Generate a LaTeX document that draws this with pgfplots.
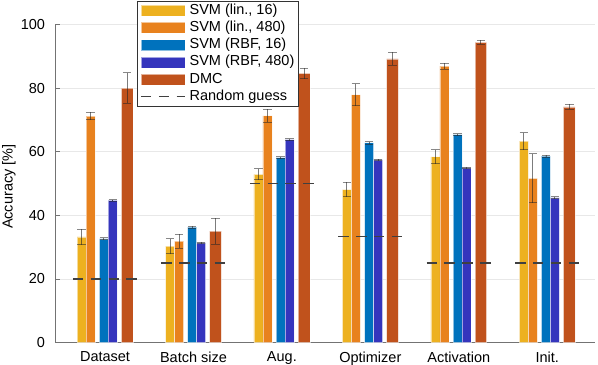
\documentclass[border=0pt]{standalone}
\usepackage{pgfplots}
\pgfplotsset{compat=1.18}
\usepackage{pgfplotstable}
\usepackage{fontspec}
\setmainfont{Liberation Sans}

\definecolor{cA}{HTML}{EDB120}
\definecolor{cB}{HTML}{E8821E}
\definecolor{cC}{HTML}{0072BD}
\definecolor{cD}{HTML}{3535BD}
\definecolor{cE}{HTML}{C0521C}

% accuracy [%] and error per group
\pgfplotstableread{
g  y1   e1  y2   e2  y3   e3  y4   e4  y5   e5
1  33.2 2.4 71.2 1.2 32.6 0.3 44.7 0.2 80.0 4.8
2  30.3 2.4 31.9 2.2 36.3 0.3 31.3 0.3 35.0 4.1
3  52.9 1.7 71.3 2.1 58.1 0.3 63.8 0.3 84.6 1.7
4  48.1 2.3 77.9 3.5 62.8 0.4 57.4 0.3 89.2 2.0
5  58.4 2.2 86.9 0.9 65.4 0.3 54.9 0.2 94.4 0.6
6  63.3 2.7 51.6 7.7 58.6 0.3 45.5 0.3 74.1 0.8
}\acc

\pgfplotsset{
  accbar/.style={ybar, bar shift=0pt, bar width=0.102, fill=#1,
    draw=white, draw opacity=0.55, line width=0.6bp,
    error bars/y dir=both, error bars/y explicit,
    error bars/error bar style={black!85, line width=0.9bp},
    error bars/error mark options={black!85, line width=0.9bp, mark size=4.2bp, rotate=90}},
  barleg/.style={legend image code/.code={%
    \path[fill=#1] (0bp,-5.5bp) rectangle (44bp,5.5bp); \path (47bp,0bp);}},
  rgleg/.style={legend image code/.code={%
    \draw[black!75, line width=1.3bp, dash pattern=on 10.5bp off 7.3bp] (0bp,0bp) -- (44bp,0bp); \path (47bp,0bp);}},
}

\begin{document}
\begin{tikzpicture}
\fontsize{14.5bp}{17bp}\selectfont
\begin{axis}[
  scale only axis,
  width=539.6bp, height=318bp,
  xmin=0.442, xmax=6.544, ymin=0, ymax=100,
  axis x line*=bottom, axis y line*=left,
  axis line style={black!55, line width=0.6bp},
  xtick={1,...,6},
  xticklabels={Dataset,Batch size,Aug.,Optimizer,Activation,Init.},
  x tick style={draw=none},
  ytick={0,20,...,100},
  tick align=inside, major tick length=4bp,
  y tick style={black!55, line width=0.6bp},
  ymajorgrids, grid style={black!9, line width=0.6bp},
  tick label style={font=\fontsize{14.5bp}{17bp}\selectfont},
  /pgf/number format/assume math mode=true,
  yticklabel style={anchor=east, inner sep=0pt, xshift=-10.5bp},
  xticklabel style={anchor=north, inner sep=0pt, yshift=-9bp},
  ylabel={Accuracy [\%]},
  ylabel style={at={(axis description cs:-0.0866,0.49)}, rotate=0, anchor=center, inner sep=0pt},
  label style={font=\fontsize{14.5bp}{17bp}\selectfont},
  legend cell align=left,
  legend style={at={(axis description cs:0.1507,1.074)}, anchor=north west,
    draw=black!80, line width=0.6bp, fill=white,
    font=\fontsize{14.5bp}{17bp}\selectfont,
    row sep=2.2bp, inner xsep=3bp, inner ysep=2bp,
    nodes={inner sep=1bp, text height=10bp, text depth=3bp}},
]
\coordinate (bl) at (rel axis cs:0,0);
\coordinate (tr) at (rel axis cs:1,1);

\addplot[accbar=cA, barleg=cA] table[x expr=\thisrow{g}-0.265, y=y1, y error=e1] {\acc};
\addlegendentry{SVM (lin., 16)}
\addplot[accbar=cB, barleg=cB] table[x expr=\thisrow{g}-0.163, y=y2, y error=e2] {\acc};
\addlegendentry{SVM (lin., 480)}
\addplot[accbar=cC, barleg=cC] table[x expr=\thisrow{g}-0.014, y=y3, y error=e3] {\acc};
\addlegendentry{SVM (RBF, 16)}
\addplot[accbar=cD, barleg=cD] table[x expr=\thisrow{g}+0.087, y=y4, y error=e4] {\acc};
\addlegendentry{SVM (RBF, 480)}
\addplot[accbar=cE, barleg=cE, bar width=0.132] table[x expr=\thisrow{g}+0.25, y=y5, y error=e5] {\acc};
\addlegendentry{DMC}

\addplot[black!75, line width=1.3bp, dash pattern=on 10.5bp off 7.3bp,
  unbounded coords=jump, rgleg]
  coordinates {(0.637,20) (1.363,20) (1.5,nan)
               (1.637,25) (2.363,25) (2.5,nan)
               (2.637,50) (3.363,50) (3.5,nan)
               (3.637,33.33) (4.363,33.33) (4.5,nan)
               (4.637,25) (5.363,25) (5.5,nan)
               (5.637,25) (6.363,25)};
\addlegendentry{Random guess}
\end{axis}
\pgfresetboundingbox
\path ([shift={(-55.7bp,-22.5bp)}]bl) rectangle ([shift={(2.7bp,24.5bp)}]tr);
\end{tikzpicture}
\end{document}
